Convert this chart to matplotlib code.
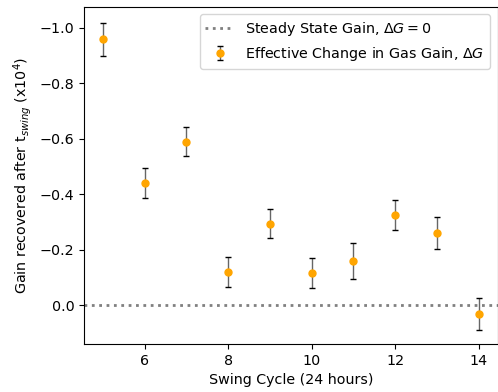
import numpy as np
import matplotlib.pyplot as plt

plt.rcParams['font.size'] = 10.3

# Swing cycles and measured gain change (x10^4)
cycles = [5, 6, 7, 8, 9, 10, 11, 12, 13, 14]
delta_g = [-0.959, -0.440, -0.590, -0.120, -0.294, -0.116, -0.159, -0.326, -0.261, 0.031]
delta_g_err = [0.059, 0.054, 0.053, 0.055, 0.053, 0.053, 0.064, 0.054, 0.058, 0.059]

fig, ax = plt.subplots(figsize=(4.98, 3.92), dpi=100)
fig.subplots_adjust(left=0.169, right=0.999, top=0.982, bottom=0.122)

ax.axhline(0, color='gray', linestyle=':', linewidth=2, label=r'Steady State Gain, $\Delta G = 0$')
eb = ax.errorbar(cycles, delta_g, yerr=delta_g_err, fmt='o', color='orange', markersize=5,
                 ecolor='black', elinewidth=1, capsize=2.5, capthick=1,
                 label=r'Effective Change in Gas Gain, $\Delta G$')
eb[2][0].set_alpha(0.6)

ax.set_ylim(0.14, -1.075)
ax.set_xlabel('Swing Cycle (24 hours)')
ax.set_ylabel(r'Gain recovered after t$_{swing}$ (x10$^4$)')
ax.legend(loc='upper right')

plt.savefig('out.png', dpi=100)
